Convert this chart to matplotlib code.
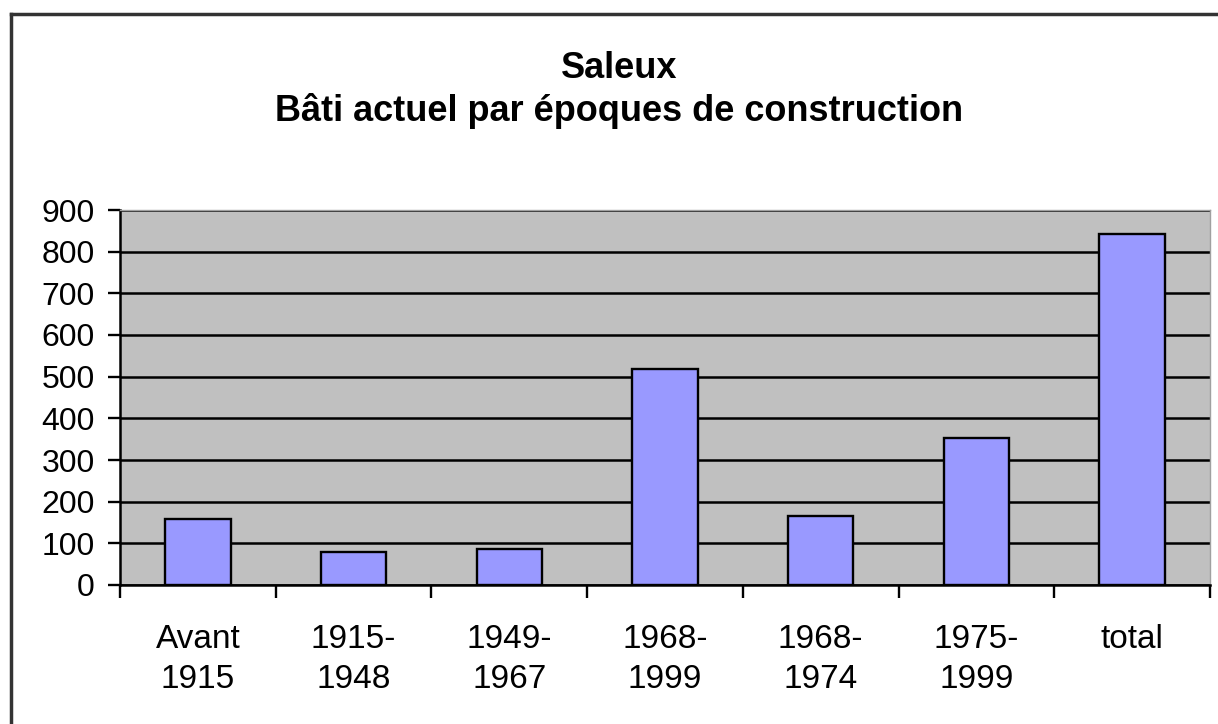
import matplotlib
matplotlib.use('Agg')
import matplotlib.pyplot as plt
from matplotlib.lines import Line2D

# data
categories = ['Avant\n1915', '1915-\n1948', '1949-\n1967', '1968-\n1999',
              '1968-\n1974', '1975-\n1999', 'total']
values = [158, 79, 86, 519, 166, 353, 842]
y_ticks = [0, 100, 200, 300, 400, 500, 600, 700, 800, 900]

plt.rcParams['font.family'] = ['Liberation Sans', 'DejaVu Sans']

fig = plt.figure(figsize=(12.18, 7.24), dpi=100)
ax = fig.add_axes([120 / 1218, 1 - 585 / 724, 1090 / 1218, 375 / 724])

ax.set_facecolor('#C0C0C0')
x = list(range(len(categories)))
ax.bar(x, values, width=0.42, color='#9999FF', edgecolor='black',
       linewidth=1.7, zorder=3)

ax.set_xlim(-0.5, len(categories) - 0.5)
ax.set_ylim(0, 900)
ax.set_yticks(y_ticks)
ax.set_yticklabels([str(v) for v in y_ticks], fontsize=23)
ax.yaxis.grid(True, color='black', linewidth=1.8, zorder=1)
ax.set_axisbelow(True)

# category labels centered, ticks on category boundaries
ax.set_xticks(x)
ax.set_xticklabels(categories, fontsize=24, linespacing=1.4)
ax.tick_params(axis='x', length=0, pad=28)
ax.set_xticks([i - 0.5 for i in range(len(categories) + 1)], minor=True)
ax.tick_params(axis='x', which='minor', length=9, width=1.7, direction='out')
ax.tick_params(axis='y', length=9, width=1.7, direction='out', pad=9)

for side in ['left', 'bottom']:
    ax.spines[side].set_linewidth(1.8)
    ax.spines[side].set_color('black')
for side in ['top', 'right']:
    ax.spines[side].set_linewidth(1.0)
    ax.spines[side].set_color('#A0A0A0')

fig.text(0.508, 1 - 68 / 724, 'Saleux', ha='center', va='center',
         fontsize=26, fontweight='bold')
fig.text(0.508, 1 - 111 / 724, 'Bâti actuel par époques de construction',
         ha='center', va='center', fontsize=26, fontweight='bold')

# outer chart frame (top and left edges visible)
fig.add_artist(Line2D([11 / 1218, 1], [1 - 14 / 724, 1 - 14 / 724],
                      transform=fig.transFigure, color='#333333', linewidth=2.5))
fig.add_artist(Line2D([11 / 1218, 11 / 1218], [0, 1 - 14 / 724],
                      transform=fig.transFigure, color='#333333', linewidth=2.5))

fig.savefig('out.png', dpi=100, facecolor='white')
